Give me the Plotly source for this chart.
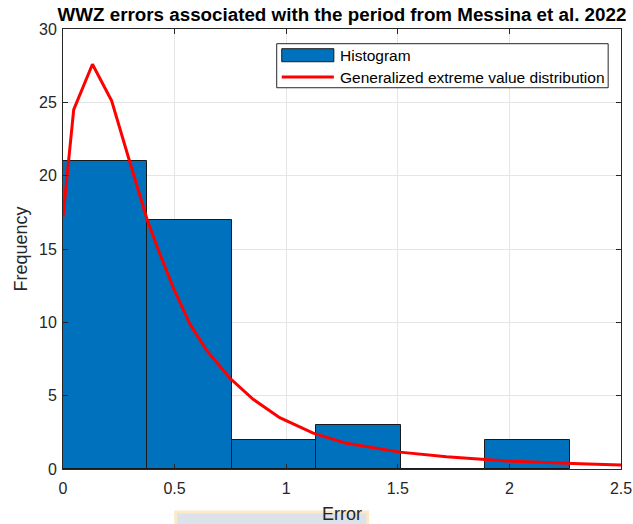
import numpy as np
import plotly.graph_objects as go

# Histogram of WWZ period errors
bin_edges = [0.0, 0.3785, 0.757, 1.1355, 1.514, 1.8925, 2.271]
counts = [21, 17, 2, 3, 0, 2]

# Fitted generalized extreme value density, scaled to frequency
gev_x = [0.0, 0.048, 0.132, 0.218, 0.300, 0.377, 0.433, 0.493, 0.568, 0.643,
         0.747, 0.852, 0.971, 1.121, 1.270, 1.509, 1.718, 2.017, 2.316, 2.500]
gev_y = [17.2, 24.5, 27.6, 25.1, 20.9, 17.0, 14.7, 12.4, 9.9, 8.1,
         6.2, 4.75, 3.5, 2.45, 1.75, 1.15, 0.84, 0.52, 0.35, 0.27]

x_ticks = [0, 0.5, 1, 1.5, 2, 2.5]
y_ticks = [0, 5, 10, 15, 20, 25, 30]

edges = np.array(bin_edges)
centers = (edges[:-1] + edges[1:]) / 2
widths = np.diff(edges)

FONT = "Liberation Sans, Arial, Helvetica, sans-serif"
AX = "#262626"

fig = go.Figure()
fig.add_trace(go.Bar(
    x=centers, y=counts, width=widths,
    marker=dict(color="#0072BD", line=dict(color="#1a1a1a", width=1)),
    name="Histogram", showlegend=False,
))
fig.add_trace(go.Scatter(
    x=gev_x, y=gev_y, mode="lines",
    line=dict(color="#FF0000", width=3),
    name="Generalized extreme value distribution", showlegend=False,
))

axis_common = dict(
    showline=True, linecolor=AX, linewidth=1, mirror="ticks",
    ticks="inside", ticklen=5, tickcolor=AX, tickwidth=1,
    showgrid=True, gridcolor="#e5e5e5", gridwidth=1, zeroline=False,
    automargin=False,
    tickfont=dict(family=FONT, size=16, color=AX),
)

fig.update_layout(
    width=633, height=524,
    margin=dict(l=63, r=12, t=29, b=55),
    paper_bgcolor="white", plot_bgcolor="white",
    font=dict(family=FONT, color=AX),
    bargap=0,
    title=dict(
        text="<b>WWZ errors associated with the period from Messina et al. 2022</b>",
        font=dict(family=FONT, size=18.8, color="black"),
        x=0.5, xref="paper", xanchor="center", y=1 - 14 / 524, yanchor="middle",
    ),
    xaxis=dict(range=[0, 2.5], tickvals=x_ticks, ticktext=[f"{t:g}" for t in x_ticks],
               ticklabelstandoff=5, **axis_common),
    yaxis=dict(range=[0, 30], tickvals=y_ticks, ticklabelstandoff=2,
               title=dict(text="Frequency", font=dict(family=FONT, size=18, color=AX), standoff=6),
               **axis_common),
)

# Faint box under the x-axis label
fig.add_shape(type="rect", xref="paper", yref="paper", x0=0.202, x1=0.546, y0=-0.14, y1=-0.098,
              line=dict(color="#fde8c8", width=3), fillcolor="#dbe2ea", layer="below")

# x-axis label
fig.add_annotation(xref="paper", yref="paper", x=0.5, y=-0.1024, xanchor="center", yanchor="middle",
                   text="Error", showarrow=False, font=dict(family=FONT, size=18, color=AX))

# Legend box drawn in paper coordinates
lx0, lx1 = 0.383, 0.977
ly0, ly1 = 0.8665, 0.9666
fig.add_shape(type="rect", xref="paper", yref="paper", x0=lx0, x1=lx1, y0=ly0, y1=ly1,
              line=dict(color=AX, width=1), fillcolor="white", layer="above")
row1, row2 = 0.9404, 0.8908
fig.add_shape(type="rect", xref="paper", yref="paper", x0=0.392, x1=0.4854,
              y0=row1 - 0.0148, y1=row1 + 0.0148,
              line=dict(color="#1a1a1a", width=1), fillcolor="#0072BD", layer="above")
fig.add_shape(type="line", xref="paper", yref="paper", x0=0.392, x1=0.4854, y0=row2, y1=row2,
              line=dict(color="#FF0000", width=3), layer="above")
for yy, txt in [(row1, "Histogram"), (row2, "Generalized extreme value distribution")]:
    fig.add_annotation(xref="paper", yref="paper", x=0.4926, y=yy, xanchor="left", yanchor="middle",
                       text=txt, showarrow=False, font=dict(family=FONT, size=15.5, color="black"))

fig.write_html("out.html")
